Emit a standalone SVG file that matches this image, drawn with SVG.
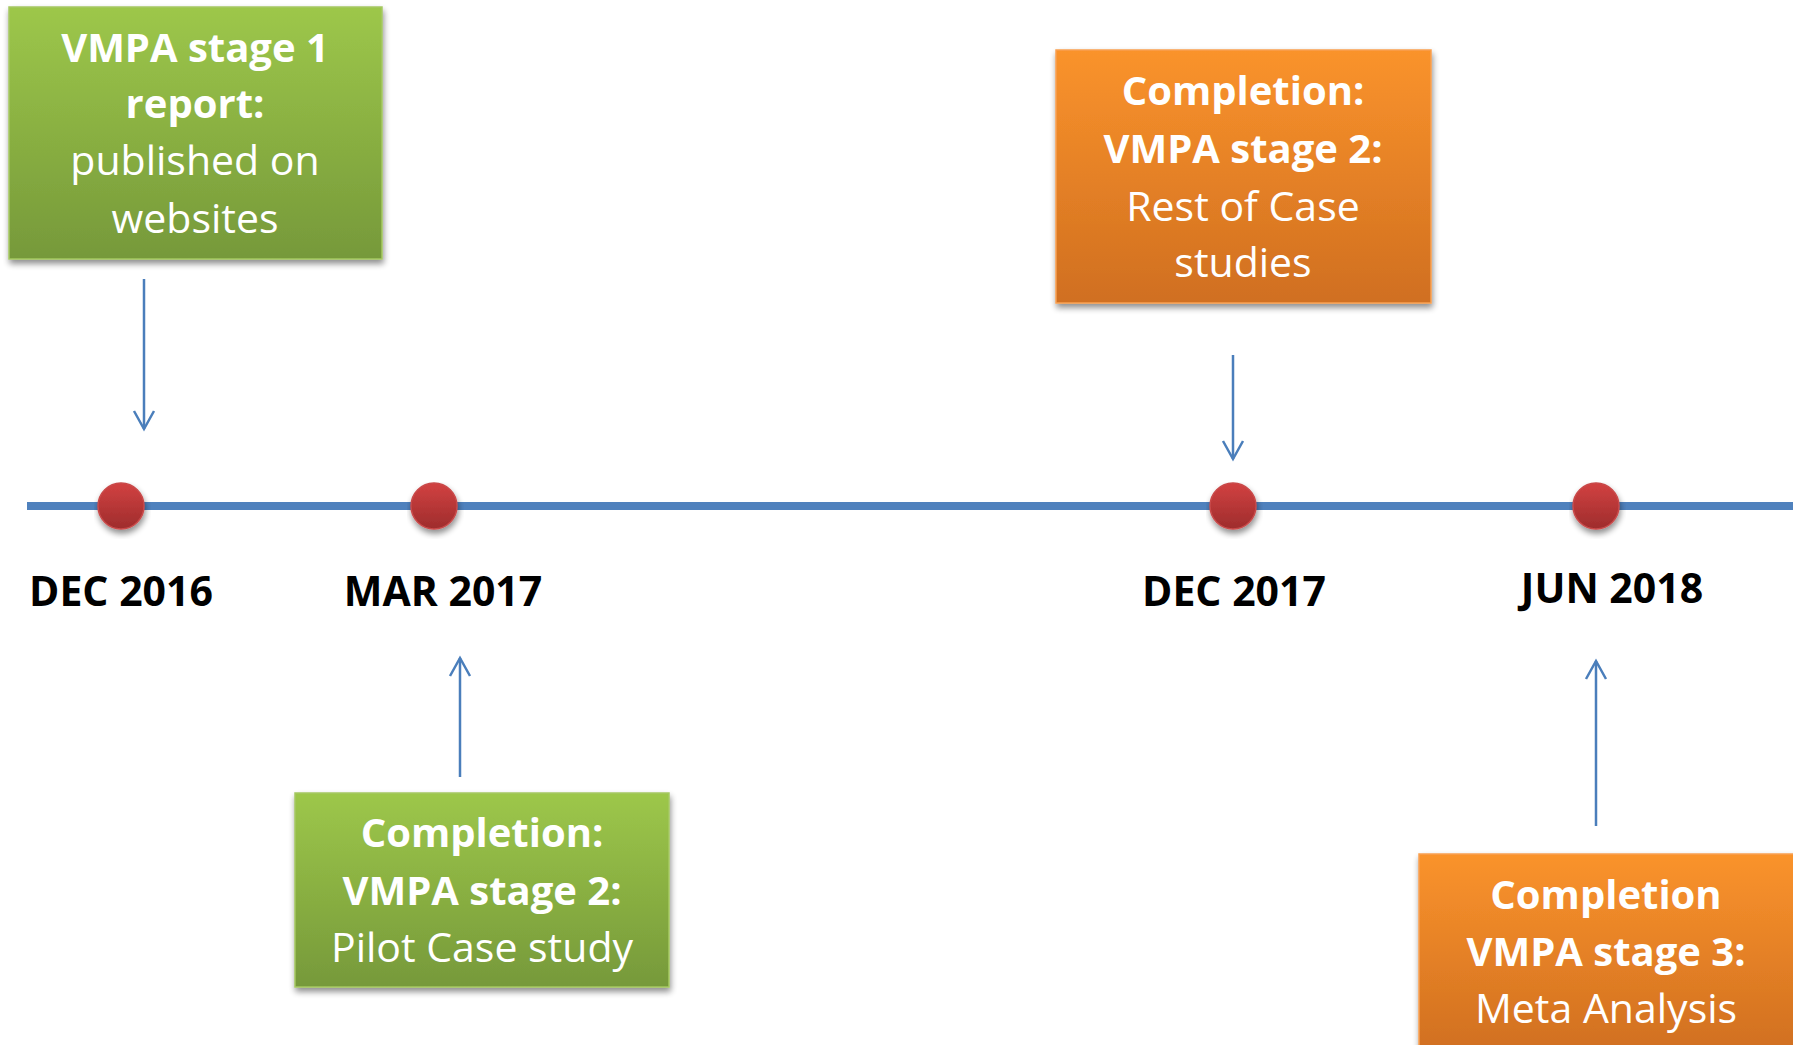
<svg xmlns="http://www.w3.org/2000/svg" width="1793" height="1045" viewBox="0 0 1793 1045">
<defs>
<linearGradient id="gGreen" x1="0" y1="0" x2="0" y2="1">
<stop offset="0" stop-color="#9DC74A"/>
<stop offset="1" stop-color="#76993A"/>
</linearGradient>
<linearGradient id="gOrange" x1="0" y1="0" x2="0" y2="1">
<stop offset="0" stop-color="#FA932C"/>
<stop offset="1" stop-color="#D06F20"/>
</linearGradient>
<linearGradient id="gRed" x1="0" y1="0" x2="0" y2="1">
<stop offset="0" stop-color="#D24242"/>
<stop offset="1" stop-color="#9E2C2C"/>
</linearGradient>
<filter id="shadow" x="-10%" y="-10%" width="125%" height="130%">
<feGaussianBlur in="SourceAlpha" stdDeviation="3"/>
<feOffset dx="1" dy="4" result="b"/>
<feComponentTransfer><feFuncA type="linear" slope="0.45"/></feComponentTransfer>
<feMerge><feMergeNode/><feMergeNode in="SourceGraphic"/></feMerge>
</filter>
<marker id="arr" viewBox="0 0 24 24" refX="21" refY="12" markerWidth="24" markerHeight="24" markerUnits="userSpaceOnUse" orient="auto">
<path d="M3,2 L21,12 L3,22" fill="none" stroke="#4A7EBB" stroke-width="2.5"/>
</marker>
</defs>
<style>
.box-g{fill:url(#gGreen);stroke:#A5C862;stroke-width:1.5;filter:url(#shadow)}
.box-o{fill:url(#gOrange);stroke:#F9A050;stroke-width:1.5;filter:url(#shadow)}
.t{font-family:"Open Sans","Noto Sans","Liberation Sans",sans-serif;font-size:40px;fill:#FFFFFF;text-anchor:middle}
.r{font-size:41px}
.b{font-weight:bold}
.date{font-family:"Open Sans","Noto Sans","Liberation Sans",sans-serif;font-size:41px;font-weight:bold;fill:#000000;text-anchor:middle}
.dot{fill:url(#gRed);stroke:#C94A4A;stroke-width:1.5;filter:url(#shadow)}
.conn{stroke:#4A7EBB;stroke-width:2.5;fill:none}
</style>
<rect width="1793" height="1045" fill="#FFFFFF"/>
<g id="timeline">
<line x1="27" y1="506" x2="1793" y2="506" stroke="#4F81BD" stroke-width="8"/>
</g>
<g id="connectors">
<line class="conn" x1="144" y1="279" x2="144" y2="429" marker-end="url(#arr)"/>
<line class="conn" x1="460" y1="777" x2="460" y2="658" marker-end="url(#arr)"/>
<line class="conn" x1="1233" y1="355" x2="1233" y2="459" marker-end="url(#arr)"/>
<line class="conn" x1="1596" y1="826" x2="1596" y2="661" marker-end="url(#arr)"/>
</g>
<g id="dot-dec2016"><circle class="dot" cx="121" cy="506" r="23"/></g>
<g id="dot-mar2017"><circle class="dot" cx="434" cy="506" r="23"/></g>
<g id="dot-dec2017"><circle class="dot" cx="1233" cy="506" r="23"/></g>
<g id="dot-jun2018"><circle class="dot" cx="1596" cy="506" r="23"/></g>
<g id="label-dec2016"><text class="date" x="121" y="606">DEC 2016</text></g>
<g id="label-mar2017"><text class="date" x="443" y="606">MAR 2017</text></g>
<g id="label-dec2017"><text class="date" x="1234" y="606">DEC 2017</text></g>
<g id="label-jun2018"><text class="date" x="1612" y="603">JUN 2018</text></g>
<g id="box-stage1">
<rect class="box-g" x="9" y="7" width="373" height="252"/>
<text class="t b" x="195" y="62">VMPA stage 1</text>
<text class="t b" x="195" y="118">report:</text>
<text class="t r" x="195" y="175">published on</text>
<text class="t r" x="195" y="233">websites</text>
</g>
<g id="box-pilot">
<rect class="box-g" x="295" y="793" width="374" height="194"/>
<text class="t b" x="482" y="847">Completion:</text>
<text class="t b" x="482" y="905">VMPA stage 2:</text>
<text class="t r" x="482" y="962">Pilot Case study</text>
</g>
<g id="box-rest">
<rect class="box-o" x="1056" y="50" width="375" height="253"/>
<text class="t b" x="1243" y="105">Completion:</text>
<text class="t b" x="1243" y="163">VMPA stage 2:</text>
<text class="t r" x="1243" y="221">Rest of Case</text>
<text class="t r" x="1243" y="277">studies</text>
</g>
<g id="box-meta">
<rect class="box-o" x="1419" y="854" width="380" height="200"/>
<text class="t b" x="1606" y="909">Completion</text>
<text class="t b" x="1606" y="966">VMPA stage 3:</text>
<text class="t r" x="1606" y="1023">Meta Analysis</text>
</g>
</svg>
